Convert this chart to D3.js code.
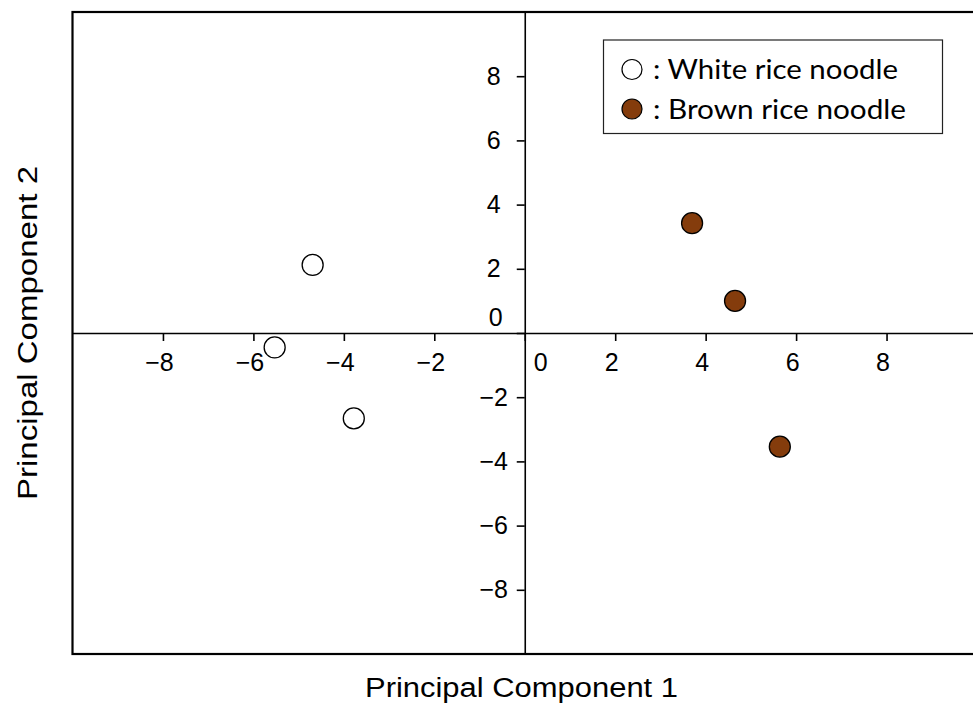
<!DOCTYPE html>
<html>
<head>
<meta charset="utf-8">
<script src="https://cdn.jsdelivr.net/npm/d3@7"></script>
<style>
  html, body { margin: 0; padding: 0; background: #fff; }
  svg { display: block; }
</style>
</head>
<body>
<svg id="chart" width="973" height="707"></svg>
<script>
// ---- data ----
const whitePC1 = [-4.69, -5.53, -3.78];
const whitePC2 = [2.12, -0.45, -2.66];
const brownPC1 = [3.70, 4.65, 5.64];
const brownPC2 = [3.42, 1.00, -3.54];
const xTicks = [-8, -6, -4, -2, 0, 2, 4, 6, 8];
const yTicks = [-8, -6, -4, -2, 0, 2, 4, 6, 8];
const legendLabels = [": White rice noodle", ": Brown rice noodle"];
const xTitle = "Principal Component 1";
const yTitle = "Principal Component 2";

const W = 973, H = 707;
const svg = d3.select("#chart");
const x = d3.scaleLinear().domain([-10, 10]).range([72.5, 977]);
const y = d3.scaleLinear().domain([-10, 10]).range([654, 12]);
const tickFont = "'Liberation Sans', Arial, sans-serif";
const brown = "#843C0C";
const TF = 25;

// frame
svg.append("rect")
  .attr("x", x(-10)).attr("y", y(10))
  .attr("width", x(10) - x(-10)).attr("height", y(-10) - y(10))
  .attr("fill", "none").attr("stroke", "#000").attr("stroke-width", 2.2);

const fmt = d => d === 0 ? "" : String(d).replace("-", "\u2212");

// x axis through origin
const xAxis = d3.axisBottom(x).tickValues(xTicks).tickSize(8).tickSizeOuter(0).tickPadding(12).tickFormat(fmt);
const gx = svg.append("g").attr("transform", `translate(0,${y(0)})`).call(xAxis)
  .attr("font-size", TF).attr("font-family", tickFont);
gx.select(".domain").attr("stroke-width", 1.6);
gx.selectAll(".tick line").attr("stroke-width", 1.6);
gx.selectAll(".tick text").style("font-size", TF + "px").attr("dx", -4).attr("fill", "#000");

// y axis through origin (labels centred left of the axis)
const yAxis = d3.axisLeft(y).tickValues(yTicks).tickSize(8).tickSizeOuter(0).tickPadding(31).tickFormat(fmt);
const gy = svg.append("g").attr("transform", `translate(${x(0)},0)`).call(yAxis)
  .attr("font-size", TF).attr("font-family", tickFont);
gy.select(".domain").attr("stroke-width", 1.6);
gy.selectAll(".tick line").attr("stroke-width", 1.6);
gy.selectAll(".tick text").style("font-size", TF + "px").attr("fill", "#000")
  .attr("x", -31).attr("text-anchor", "middle");

// zero labels
svg.append("text").attr("x", x(0) + 16).attr("y", y(0) + 29).attr("dy", "0.35em")
  .attr("text-anchor", "middle").attr("font-family", tickFont).style("font-size", TF + "px").text("0");
svg.append("text").attr("x", x(0) - 29).attr("y", y(0) - 16).attr("dy", "0.35em")
  .attr("text-anchor", "middle").attr("font-family", tickFont).style("font-size", TF + "px").text("0");

// points
svg.append("g").selectAll("circle").data(whitePC1.map((v, i) => [v, whitePC2[i]]))
  .join("circle").attr("cx", d => x(d[0])).attr("cy", d => y(d[1])).attr("r", 10.5)
  .attr("fill", "#fff").attr("stroke", "#000").attr("stroke-width", 1.3);
svg.append("g").selectAll("circle").data(brownPC1.map((v, i) => [v, brownPC2[i]]))
  .join("circle").attr("cx", d => x(d[0])).attr("cy", d => y(d[1])).attr("r", 10.5)
  .attr("fill", brown).attr("stroke", "#000").attr("stroke-width", 1.3);

// legend
const lg = svg.append("g");
lg.append("rect").attr("x", 603.5).attr("y", 40).attr("width", 339).attr("height", 93.5)
  .attr("fill", "#fff").attr("stroke", "#222").attr("stroke-width", 1.2);
const legFill = ["#fff", brown];
const legY = [69.5, 109];
const legLen = [245, 253];
legendLabels.forEach((t, i) => {
  lg.append("circle").attr("cx", 632).attr("cy", legY[i]).attr("r", 10)
    .attr("fill", legFill[i]).attr("stroke", "#000").attr("stroke-width", 1.2);
  lg.append("text").attr("x", 653).attr("y", legY[i]).attr("dy", "0.36em")
    .attr("font-family", "Lato, 'Open Sans', sans-serif").style("font-size", "27px")
    .attr("textLength", legLen[i]).attr("lengthAdjust", "spacingAndGlyphs")
    .attr("fill", "#000").text(t);
});

// axis titles
svg.append("text").attr("x", 521.5).attr("y", 697).attr("text-anchor", "middle")
  .attr("font-family", tickFont).style("font-size", "27px").attr("fill", "#000")
  .attr("textLength", 313).attr("lengthAdjust", "spacingAndGlyphs").text(xTitle);
svg.append("text").attr("transform", `translate(37,333) rotate(-90)`).attr("text-anchor", "middle")
  .attr("font-family", tickFont).style("font-size", "27px").attr("fill", "#000")
  .attr("textLength", 334).attr("lengthAdjust", "spacingAndGlyphs").text(yTitle);
</script>
</body>
</html>
